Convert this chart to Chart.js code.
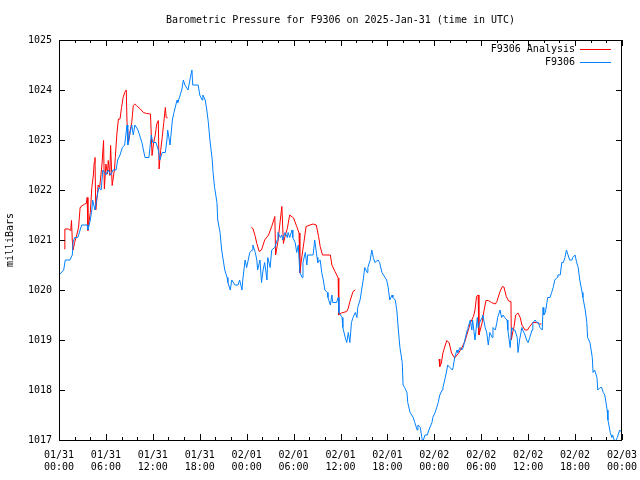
<!DOCTYPE html>
<html>
<head>
<meta charset="utf-8">
<script src="https://cdn.jsdelivr.net/npm/chart.js@4.4.1/dist/chart.umd.min.js"></script>
<style>
  html, body { margin: 0; padding: 0; background: #fff; }
</style>
</head>
<body>
<canvas id="baroChart" width="640" height="480"></canvas>
<script>
// hours since 2025-01-31 00:00 UTC
var tickLabels = [
    ['01/31', '00:00'], ['01/31', '06:00'], ['01/31', '12:00'], ['01/31', '18:00'],
    ['02/01', '00:00'], ['02/01', '06:00'], ['02/01', '12:00'], ['02/01', '18:00'],
    ['02/02', '00:00'], ['02/02', '06:00'], ['02/02', '12:00'], ['02/02', '18:00'],
    ['02/03', '00:00']
];

var stationHours = [
    0, 0.6, 0.8, 1.4, 1.7, 1.8, 2.0, 2.4, 2.7, 2.9, 3.6, 3.7, 4.0, 4.2, 4.3, 4.6, 4.9, 5.1, 5.4, 5.6,
    6.0, 6.3, 6.6, 6.9, 7.3, 7.5, 7.8, 8.1, 8.4, 8.7, 8.8, 9.1, 9.3, 9.5, 9.7, 10.1, 10.6, 11.0, 11.5, 11.8,
    12.0, 12.4, 12.7, 12.9, 13.2, 13.6, 13.8, 13.9, 14.2, 14.5, 14.7, 15.1, 15.2, 15.5, 15.7, 15.9, 16.1, 16.5, 16.8, 17.0,
    17.1, 17.8, 18.0, 18.3, 18.4, 18.7, 18.9, 19.1, 19.3, 19.6, 19.7, 19.9, 20.2, 20.3, 20.6, 20.8, 21.0, 21.2, 21.5, 21.6,
    21.9, 22.1, 22.5, 22.9, 23.1, 23.4, 23.5, 23.8, 24.0, 24.2, 24.4, 24.7, 24.8, 25.1, 25.3, 25.4, 25.7, 25.9, 26.1, 26.3,
    26.6, 26.7, 27.0, 27.2, 27.6, 27.9, 28.0, 28.3, 28.5, 28.6, 28.9, 29.2, 29.3, 29.5, 29.8, 29.9, 30.2, 30.4, 30.6, 30.8,
    31.1, 31.2, 31.5, 31.7, 31.8, 32.5, 32.7, 33.0, 33.1, 33.4, 33.6, 33.8, 34.0, 34.3, 34.4, 34.7, 34.9, 35.0, 35.5, 35.7,
    35.8, 36.2, 36.3, 36.6, 36.8, 37.0, 37.2, 37.4, 37.6, 37.9, 38.1, 38.2, 38.5, 38.7, 38.9, 39.1, 39.4, 39.5, 39.8, 40.0,
    40.2, 40.4, 40.8, 41.0, 41.3, 41.7, 41.9, 42.1, 42.3, 42.6, 42.7, 43.0, 43.2, 43.4, 43.6, 43.9, 44.0, 44.2, 44.5, 44.6,
    44.9, 45.3, 45.5, 45.8, 45.9, 46.2, 46.4, 46.5, 46.8, 47.1, 47.3, 47.7, 47.8, 48.1, 48.3, 48.5, 48.7, 49.0, 49.1, 49.4,
    49.6, 49.7, 50.0, 50.3, 50.4, 50.6, 50.9, 51.0, 51.3, 51.5, 51.7, 51.9, 52.2, 52.3, 52.6, 52.8, 52.9, 53.2, 53.5, 53.6,
    53.8, 54.1, 54.2, 54.5, 54.7, 54.9, 55.1, 55.4, 55.5, 55.8, 56.0, 56.1, 56.4, 56.6, 56.8, 57.0, 57.3, 57.4, 57.7, 57.9,
    58.1, 58.3, 58.6, 58.7, 58.9, 59.2, 59.3, 59.6, 59.8, 60.0, 60.2, 60.5, 60.6, 60.9, 61.1, 61.3, 61.5, 61.8, 61.9, 62.0,
    62.2, 62.4, 62.5, 62.8, 63.0, 63.2, 63.4, 63.7, 63.8, 64.1, 64.3, 64.5, 64.7, 64.9, 65.1, 65.3, 65.6, 65.7, 66.0, 66.2,
    66.4, 66.6, 66.9, 67.0, 67.3, 67.5, 67.6, 67.9, 68.2, 68.3, 68.5, 68.8, 68.9, 69.2, 69.4, 69.6, 69.8, 70.1, 70.2, 70.5,
    70.7, 70.8, 71.1, 71.4, 71.5, 71.7, 72.0
];
var stationValues = [
    1020.3, 1020.4, 1020.6, 1020.6, 1020.7, 1020.95, 1021.05, 1021.05, 1021.2, 1021.3, 1021.3, 1021.2, 1021.4, 1021.6, 1021.8, 1021.6, 1021.9, 1022.05, 1022.0, 1022.4,
    1022.3, 1022.4, 1022.3, 1022.4, 1022.4, 1022.6, 1022.7, 1022.85, 1022.9, 1023.3, 1022.9, 1023.15, 1023.3, 1023.1, 1023.3, 1023.2, 1022.95, 1022.65, 1022.65, 1023.1,
    1022.95, 1022.95, 1022.8, 1022.6, 1022.75, 1022.75, 1023.0, 1023.2, 1022.9, 1023.4, 1023.55, 1023.8, 1023.75, 1023.9, 1024.0, 1024.2, 1024.1, 1024.0, 1024.25, 1024.4,
    1024.1, 1024.1, 1023.9, 1023.8, 1023.9, 1023.8, 1023.6, 1023.35, 1023.0, 1022.6, 1022.35, 1022.05, 1021.75, 1021.4, 1021.15, 1020.8, 1020.6, 1020.4, 1020.25, 1020.15,
    1020.0, 1020.2, 1020.1, 1020.1, 1020.2, 1020.0, 1020.2, 1020.6, 1020.45, 1020.6, 1020.75, 1020.8, 1020.9, 1020.75, 1020.6, 1020.4, 1020.6, 1020.15, 1020.4, 1020.55,
    1020.2, 1020.65, 1020.45, 1020.8, 1020.85, 1021.0, 1021.15, 1021.05, 1021.1, 1021.0, 1021.15, 1021.05, 1021.15, 1021.05, 1021.2, 1021.05, 1020.95, 1020.75, 1020.9, 1020.35,
    1020.25, 1020.55, 1020.75, 1020.5, 1020.7, 1020.7, 1021.0, 1020.65, 1020.55, 1020.6, 1020.35, 1020.2, 1020.0, 1019.95, 1019.85, 1019.7, 1019.9, 1019.75, 1019.75, 1019.85,
    1019.55, 1019.45, 1019.25, 1019.05, 1018.95, 1019.15, 1018.95, 1019.35, 1019.45, 1019.55, 1019.45, 1019.65, 1019.8, 1020.0, 1020.2, 1020.45, 1020.35, 1020.45, 1020.6, 1020.8,
    1020.65, 1020.55, 1020.6, 1020.55, 1020.35, 1020.25, 1020.2, 1020.05, 1019.8, 1019.9, 1019.85, 1019.8, 1019.6, 1019.2, 1018.85, 1018.55, 1018.1, 1018.05, 1017.95, 1017.75,
    1017.55, 1017.45, 1017.35, 1017.2, 1017.3, 1017.25, 1017.05, 1016.95, 1017.1, 1017.1, 1017.2, 1017.35, 1017.45, 1017.55, 1017.65, 1017.75, 1017.9, 1018.0, 1018.05, 1018.25,
    1018.4, 1018.5, 1018.45, 1018.4, 1018.45, 1018.65, 1018.8, 1018.75, 1018.85, 1018.8, 1018.85, 1019.0, 1019.2, 1019.25, 1019.4, 1019.2, 1019.4, 1019.0, 1019.45, 1019.25,
    1019.35, 1019.45, 1019.5, 1019.25, 1019.15, 1018.9, 1019.15, 1019.05, 1019.25, 1019.2, 1019.35, 1019.45, 1019.6, 1019.45, 1019.5, 1019.45, 1019.4, 1019.2, 1018.85, 1019.25,
    1019.2, 1019.2, 1019.05, 1018.75, 1019.0, 1019.25, 1019.2, 1019.1, 1019.0, 1018.95, 1019.05, 1019.2, 1019.35, 1019.4, 1019.35, 1019.35, 1019.25, 1019.2, 1019.65, 1019.5,
    1019.55, 1019.75, 1019.85, 1019.85, 1019.95, 1020.05, 1020.2, 1020.25, 1020.3, 1020.3, 1020.55, 1020.55, 1020.65, 1020.8, 1020.7, 1020.6, 1020.6, 1020.65, 1020.7, 1020.55,
    1020.45, 1020.2, 1019.95, 1019.85, 1019.6, 1019.35, 1019.05, 1018.95, 1018.65, 1018.35, 1018.4, 1018.25, 1018.0, 1018.05, 1018.05, 1017.95, 1017.9, 1017.6, 1017.4, 1017.15,
    1017.05, 1017.1, 1016.95, 1017.05, 1017.1, 1017.2, 1017.15
];

// null = gap in the analysis series
var analysisHours = [
    0.7, 0.75, 1.2, 1.5, 1.6, 1.7, 1.8, 2.0, 2.3, 2.5, 2.7, 2.8, 3.3, 3.5, 3.6, 3.7, 4.0, 4.2, 4.4, 4.5,
    4.6, 4.7, 4.9, 5.0, 5.2, 5.5, 5.7, 5.8, 6.0, 6.2, 6.3, 6.5, 6.6, 6.8, 7.1, 7.2, 7.4, 7.6, 7.8, 8.0,
    8.2, 8.4, 8.6, 8.7, 8.9, 9.1, 9.3, 9.5, 9.7, 9.9, 10.4, 10.8, 11.2, 11.7, 11.9, 12.1, 12.3, 12.5, 12.7, 12.8,
    13.0, 13.2, 13.4, 13.6, 13.7, 13.9,
    19.0,
    24.6, 24.8, 25.1, 25.3, 25.6, 25.9, 26.3, 26.8, 27.2, 27.6, 27.7, 28.0, 28.3, 28.5, 28.7, 28.9, 29.2, 29.5, 30.0, 30.4,
    30.7, 30.8, 31.0, 31.3, 31.6, 32.1, 32.5, 32.9, 33.2, 33.4, 33.7, 34.7, 34.9, 35.3, 35.7, 35.75, 35.8, 36.1, 36.8, 37.0,
    37.2, 37.6, 37.9,
    43.0,
    48.6, 48.7, 48.9, 49.1, 49.4, 49.6, 49.9, 50.2, 50.6, 51.1, 51.5, 51.9, 52.1, 52.6, 53.0, 53.2, 53.4, 53.6, 53.7, 54.1,
    54.3, 54.6, 54.9, 55.3, 55.8, 56.0, 56.4, 56.7, 56.9, 57.2, 57.5, 57.8, 57.85, 58.0, 58.2, 58.4, 58.7, 59.0, 59.2, 59.6,
    59.9, 60.2, 60.6, 61.1, 61.4, 61.7
];
var analysisValues = [
    1020.82, 1021.22, 1021.22, 1021.19, 1021.39, 1021.0, 1020.8, 1020.95, 1021.12, 1021.25, 1021.65, 1021.67, 1021.72, 1021.73, 1021.85, 1021.19, 1021.55, 1022.05, 1022.3, 1022.55,
    1022.65, 1021.6, 1021.9, 1022.1, 1022.05, 1022.52, 1022.99, 1022.02, 1022.52, 1022.32, 1022.59, 1022.29, 1022.89, 1022.09, 1022.42, 1022.65, 1023.12, 1023.42, 1023.42, 1023.65,
    1023.85, 1023.95, 1024.0, 1023.35, 1022.95, 1023.19, 1023.35, 1023.69, 1023.72, 1023.69, 1023.62, 1023.55, 1023.53, 1023.52, 1022.69, 1022.95, 1023.09, 1023.32, 1023.39, 1022.42,
    1022.79, 1023.05, 1023.35, 1023.65, 1023.45, 1023.44,
    null,
    1021.25, 1021.23, 1021.07, 1020.93, 1020.77, 1020.8, 1021.0, 1021.1, 1021.27, 1021.47, 1020.7, 1020.97, 1021.4, 1021.67, 1020.93, 1021.07, 1021.23, 1021.5, 1021.44, 1021.27,
    1021.14, 1020.34, 1020.6, 1020.93, 1021.27, 1021.3, 1021.32, 1021.3, 1021.07, 1020.87, 1020.7, 1020.7, 1020.5, 1020.37, 1020.24, 1019.8, 1019.5, 1019.54, 1019.57, 1019.64,
    1019.77, 1019.97, 1020.0,
    null,
    1018.62, 1018.47, 1018.54, 1018.74, 1018.9, 1018.99, 1018.94, 1018.74, 1018.64, 1018.74, 1018.84, 1018.97, 1019.07, 1019.34, 1019.47, 1019.6, 1019.87, 1019.9, 1019.1, 1019.34,
    1019.54, 1019.79, 1019.79, 1019.75, 1019.72, 1019.77, 1019.97, 1020.07, 1020.06, 1019.87, 1019.78, 1019.77, 1019.0, 1019.14, 1019.27, 1019.5, 1019.54, 1019.44, 1019.3, 1019.2,
    1019.2, 1019.27, 1019.35, 1019.35, 1019.32, 1019.32
];

var monoFont = { family: '"DejaVu Sans Mono", "Liberation Mono", monospace', size: 10, weight: 'normal' };

function toPoints(hours, values) {
    return hours.map(function (h, i) { return { x: h, y: values[i] }; });
}

// gnuplot-like frame, inward ticks and legend
var framePlugin = {
    id: 'frame',
    afterDatasetsDraw: function (chart) {
        var ctx = chart.ctx;
        var a = chart.chartArea;
        var xs = chart.scales.x;
        var ys = chart.scales.y;
        ctx.save();
        ctx.strokeStyle = '#000';
        ctx.lineWidth = 1;
        ctx.strokeRect(a.left + 0.5, a.top + 0.5, a.right - a.left - 1, a.bottom - a.top);
        ctx.beginPath();
        for (var h = 0; h <= 72; h += 2) {
            var px = Math.round(xs.getPixelForValue(h)) + 0.5;
            var len = h % 6 === 0 ? 6 : 3;
            ctx.moveTo(px, a.bottom);
            ctx.lineTo(px, a.bottom - len);
            ctx.moveTo(px, a.top);
            ctx.lineTo(px, a.top + len);
        }
        for (var v = 1017; v <= 1025; v++) {
            var py = Math.round(ys.getPixelForValue(v)) + 0.5;
            ctx.moveTo(a.left, py);
            ctx.lineTo(a.left + 6, py);
            ctx.moveTo(a.right, py);
            ctx.lineTo(a.right - 6, py);
        }
        ctx.stroke();

        ctx.font = '10px ' + monoFont.family;
        ctx.textAlign = 'right';
        ctx.textBaseline = 'middle';
        chart.data.datasets.forEach(function (ds, i) {
            var y = 49 + i * 13;
            ctx.fillStyle = '#000';
            ctx.fillText(ds.label, a.right - 47, y);
            ctx.strokeStyle = ds.borderColor;
            ctx.beginPath();
            ctx.moveTo(a.right - 42, y + 0.5);
            ctx.lineTo(a.right - 11, y + 0.5);
            ctx.stroke();
        });
        ctx.restore();
    }
};

new Chart(document.getElementById('baroChart').getContext('2d'), {
    type: 'line',
    data: {
        datasets: [
            {
                label: 'F9306 Analysis',
                data: toPoints(analysisHours, analysisValues),
                borderColor: '#ff0000',
                borderWidth: 1,
                pointRadius: 0,
                spanGaps: false,
                clip: 0,
                order: 1
            },
            {
                label: 'F9306',
                data: toPoints(stationHours, stationValues),
                borderColor: '#0080ff',
                borderWidth: 1,
                pointRadius: 0,
                clip: 0,
                order: 0
            }
        ]
    },
    options: {
        responsive: false,
        animation: false,
        layout: { padding: { left: 0, right: 18, top: 0, bottom: 0 } },
        plugins: {
            legend: { display: false },
            tooltip: { enabled: false },
            title: {
                display: true,
                text: 'Barometric Pressure for F9306 on 2025-Jan-31 (time in UTC)',
                color: '#000',
                font: monoFont,
                fullSize: false,
                padding: { top: 14, bottom: 14 }
            }
        },
        scales: {
            x: {
                type: 'linear',
                min: 0,
                max: 72,
                grid: { display: false, drawTicks: false },
                border: { display: false },
                ticks: {
                    stepSize: 6,
                    autoSkip: false,
                    maxRotation: 0,
                    padding: 9,
                    color: '#000',
                    font: monoFont,
                    callback: function (value) { return tickLabels[value / 6]; }
                },
                afterFit: function (scale) {
                    scale.height = 40;
                    scale.paddingLeft = 0;
                    scale.paddingRight = 0;
                }
            },
            y: {
                min: 1017,
                max: 1025,
                grid: { display: false, drawTicks: false },
                border: { display: false },
                ticks: {
                    stepSize: 1,
                    padding: 7,
                    color: '#000',
                    font: monoFont,
                    callback: function (value) { return String(value); }
                },
                title: {
                    display: true,
                    text: 'milliBars',
                    color: '#000',
                    font: monoFont,
                    padding: { top: 4, bottom: 0 }
                },
                afterFit: function (scale) {
                    scale.width = 59;
                    scale.paddingTop = 0;
                    scale.paddingBottom = 0;
                }
            }
        }
    },
    plugins: [framePlugin]
});
</script>
</body>
</html>
